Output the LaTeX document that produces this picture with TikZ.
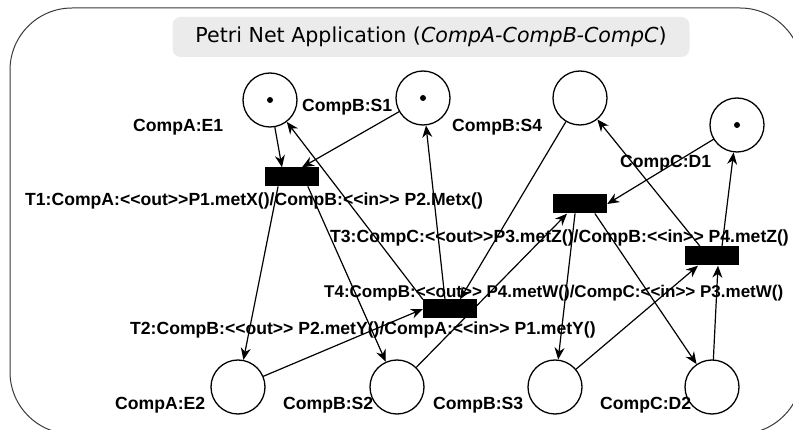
\documentclass[tikz,border=0pt]{standalone}
\usepackage{fontspec}
\setmainfont{Liberation Sans}
\newfontfamily\titlefont{DejaVu Sans}
\usetikzlibrary{arrows.meta}
\definecolor{titlegray}{HTML}{EBEBEB}
\definecolor{framegray}{HTML}{3A3A3A}
\tikzset{
    place/.style={
        circle, draw, line width=1.3pt, minimum size=54pt, inner sep=0pt
    },
    trans/.style={
        rectangle, fill=black, minimum width=54pt, minimum height=19pt, inner sep=0pt
    },
    lab/.style={
        font=\fontsize{17.6}{20}\selectfont\bfseries, anchor=west, inner sep=0pt
    },
    arc/.style={
        -{Stealth[length=12pt,width=10pt]}, line width=1.2pt
    }
}

\begin{document}
\begin{tikzpicture}[x=1pt,y=-1pt, line cap=round, line join=round]

\useasboundingbox (0,0) rectangle (793,430);

% frame and title
\draw[framegray, line width=1pt, rounded corners=62pt] (10,8) rectangle (802,434);
\node[fill=titlegray, rounded corners=8pt, minimum width=517pt, minimum height=40pt,
      font=\titlefont\fontsize{20.6}{24}\selectfont] (title) at (431,37)
  {Petri Net Application (\textit{CompA-CompB-CompC})};

% places
\foreach \n/\x/\y in {e1/270/100, s1/423/98, s4/580/98, d1/737/125,
                      e2/238/387, s2/397/387, s3/555/387, d2/712/387} {
  \node[place] (\n) at (\x,\y) {};
}

% tokens
\foreach \n in {e1,s1,d1} {
  \fill (\n) circle (3pt);
}

% transitions
\node[trans] (t1) at (292,177) {};
\node[trans] (t2) at (450,309) {};
\node[trans] (t3) at (580,204) {};
\node[trans] (t4) at (712,256) {};

% place labels
\foreach \n/\x/\y/\t in {E1/133/127/CompA:E1, S1/302/107/CompB:S1,
                         S4/452/127/CompB:S4, D1/620/163/CompC:D1,
                         E2/115/405/CompA:E2, S2/283/405/CompB:S2,
                         S3/433/405/CompB:S3, D2/600/405/CompC:D2} {
  \node[lab] (lab\n) at (\x,\y) {\t};
}

% transition labels
\node[lab] (labT1) at (25,201) {T1:CompA:<{}<out>{}>P1.metX()/CompB:<{}<in>{}> P2.Metx()};
\node[lab] (labT3) at (330,238) {T3:CompC:<{}<out>{}>P3.metZ()/CompB:<{}<in>{}> P4.metZ()};
\node[lab, font=\fontsize{17}{20}\selectfont\bfseries] (labT4) at (324,293)
  {T4:CompB:<{}<out>{}> P4.metW()/CompC:<{}<in>{}> P3.metW()};
\node[lab] (labT2) at (130,330) {T2:CompB:<{}<out>{}> P2.metY()/CompA:<{}<in>{}> P1.metY()};

% T1
\draw[arc] (e1) -- ([xshift=-10pt]t1.north);
\draw[arc] (s1) -- ([xshift=10pt]t1.north);
\draw[arc] ([xshift=-14pt]t1.south) -- (e2);
\draw[arc] ([xshift=16pt]t1.south) -- (s2);

% T2
\draw[arc] (t2.north west) -- (e1);
\draw[arc] ([xshift=-5pt]t2.north) -- (s1);
\draw[arc] (s4) -- ([xshift=10pt]t2.north);
\draw[arc] (e2) -- (t2.west);

% T3
\draw[arc] (s2) -- ([xshift=-13pt]t3.south);
\draw[arc] (d1) -- (t3.east);
\draw[arc] ([xshift=-5pt]t3.south) -- (s3);
\draw[arc] ([xshift=15pt]t3.south) -- (d2);

% T4
\draw[arc] (s3) -- ([xshift=-14pt]t4.south);
\draw[arc] (d2) -- ([xshift=6pt]t4.south);
\draw[arc] ([xshift=-12pt]t4.north) -- (s4);
\draw[arc] ([xshift=10pt]t4.north) -- (d1);

\end{tikzpicture}
\end{document}
